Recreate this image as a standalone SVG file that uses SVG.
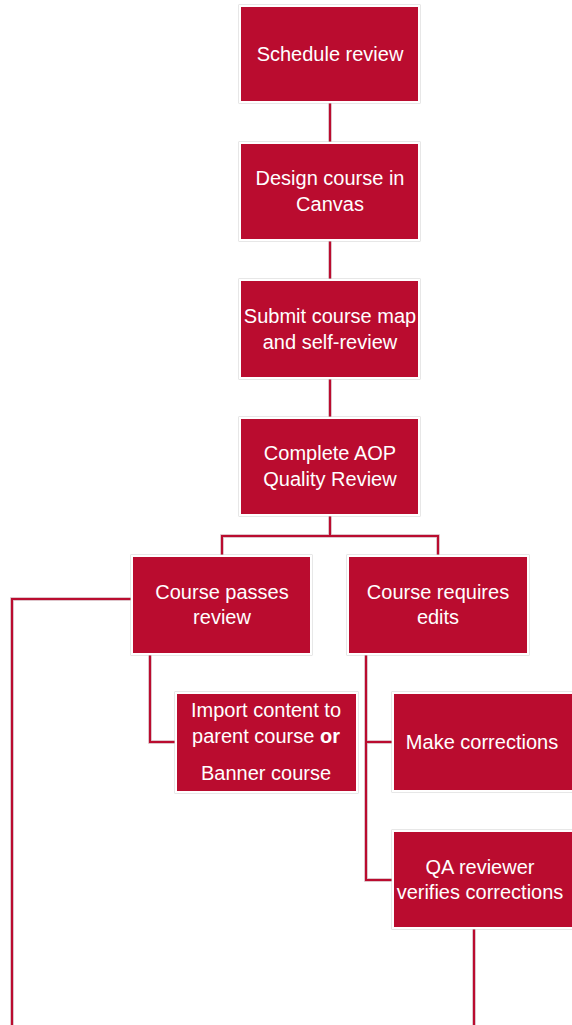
<svg xmlns="http://www.w3.org/2000/svg" width="572" height="1025" viewBox="0 0 572 1025">
<style>
.box{fill:#BA0C2F;stroke:#ffffff;stroke-width:2}
.edge{fill:none;stroke:#cfcfcf;stroke-width:1}
.t{font-family:"Liberation Sans",Arial,sans-serif;font-size:20px;fill:#ffffff;text-anchor:middle}
.lnu{fill:none;stroke:#d4b3bb;stroke-width:3.5}
.ln{fill:none;stroke:#BA0C2F;stroke-width:2}
</style>
<rect width="572" height="1025" fill="#ffffff"/>
<g id="connectors">
<path class="lnu" d="M330 102V143M330 240V280M330 378V418M330 515V536M222 556V536H438V556M132 599H12V1025M150 654V742H176M366 654V880H393M366 742H393M474 928V1025"/>
<path class="ln" d="M330 102V143M330 240V280M330 378V418M330 515V536M222 556V536H438V556M132 599H12V1025M150 654V742H176M366 654V880H393M366 742H393M474 928V1025"/>
</g>
<g id="n1"><rect class="edge" x="239" y="5" width="181" height="98"/><rect class="box" x="240" y="6" width="179" height="96"/><text class="t" x="330" y="61">Schedule review</text></g>
<g id="n2"><rect class="edge" x="239" y="142" width="181" height="99"/><rect class="box" x="240" y="143" width="179" height="97"/><text class="t" x="330" y="185">Design course in</text><text class="t" x="330" y="211">Canvas</text></g>
<g id="n3"><rect class="edge" x="239" y="279" width="181" height="100"/><rect class="box" x="240" y="280" width="179" height="98"/><text class="t" x="330" y="323">Submit course map</text><text class="t" x="330" y="349">and self-review</text></g>
<g id="n4"><rect class="edge" x="239" y="417" width="181" height="99"/><rect class="box" x="240" y="418" width="179" height="97"/><text class="t" x="330" y="460">Complete AOP</text><text class="t" x="330" y="486">Quality Review</text></g>
<g id="n5"><rect class="edge" x="131" y="555" width="181" height="100"/><rect class="box" x="132" y="556" width="179" height="98"/><text class="t" x="222" y="599">Course passes</text><text class="t" x="222" y="624">review</text></g>
<g id="n6"><rect class="edge" x="347" y="555" width="182" height="100"/><rect class="box" x="348" y="556" width="180" height="98"/><text class="t" x="438" y="599">Course requires</text><text class="t" x="438" y="624">edits</text></g>
<g id="n7"><rect class="edge" x="175" y="692" width="183" height="101"/><rect class="box" x="176" y="693" width="181" height="99"/><text class="t" x="266" y="717">Import content to</text><text class="t" x="266" y="743">parent course <tspan font-weight="bold">or</tspan></text><text class="t" x="266" y="780">Banner course</text></g>
<g id="n8"><rect class="edge" x="392" y="692" width="182" height="100"/><rect class="box" x="393" y="693" width="180" height="98"/><text class="t" x="482" y="749">Make corrections</text></g>
<g id="n9"><rect class="edge" x="392" y="830" width="182" height="99"/><rect class="box" x="393" y="831" width="180" height="97"/><text class="t" x="480" y="874">QA reviewer</text><text class="t" x="480" y="899">verifies corrections</text></g>
</svg>
